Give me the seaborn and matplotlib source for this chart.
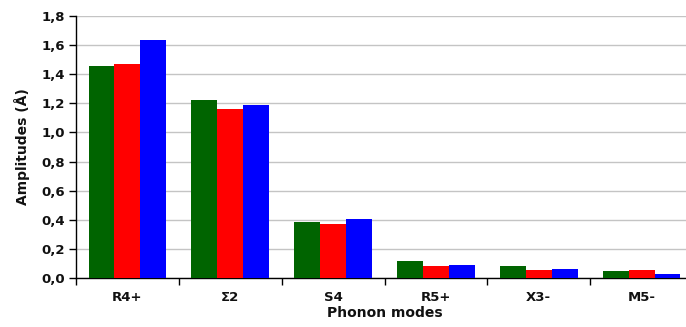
import pandas as pd
import matplotlib
matplotlib.use("Agg")
import matplotlib.pyplot as plt
from matplotlib.ticker import FuncFormatter, FixedLocator
import seaborn as sns

# values
modes = ["R4+", "Σ2", "S4", "R5+", "X3-", "M5-"]
series_names = ["Series 1", "Series 2", "Series 3"]
series_1 = [1.456, 1.222, 0.385, 0.119, 0.082, 0.050]
series_2 = [1.473, 1.160, 0.369, 0.085, 0.055, 0.057]
series_3 = [1.635, 1.188, 0.405, 0.089, 0.062, 0.027]
colors = ["#006400", "#ff0000", "#0000ff"]

data = pd.DataFrame({
    "mode": modes * 3,
    "series": [s for s in series_names for _ in modes],
    "amplitude": series_1 + series_2 + series_3,
})

sns.set_style("white")
plt.rcParams["font.family"] = ["DejaVu Sans"]
plt.rcParams["font.weight"] = "bold"
plt.rcParams["text.color"] = "#111111"
plt.rcParams["xtick.color"] = "black"
plt.rcParams["ytick.color"] = "black"
plt.rcParams["xtick.labelcolor"] = "#111111"
plt.rcParams["ytick.labelcolor"] = "#111111"
plt.rcParams["axes.labelcolor"] = "#111111"

fig = plt.figure(figsize=(6.86, 3.27), dpi=100)
ax = fig.add_axes([0.1108, 0.1498, 0.8994, 0.8012])

sns.barplot(
    data=data, x="mode", y="amplitude", hue="series",
    order=modes, hue_order=series_names, palette=colors,
    width=0.756, gap=0, linewidth=0, saturation=1,
    legend=False, ax=ax, zorder=3,
)

ax.set_xlim(-0.5, 5.5)
ax.set_ylim(0, 1.8)
ax.set_yticks([i * 0.2 for i in range(10)])
ax.yaxis.set_major_formatter(FuncFormatter(lambda v, p: f"{v:.1f}".replace(".", ",")))
ax.grid(axis="y", color="#c4c4c4", linewidth=1, zorder=0)
ax.set_axisbelow(True)

# tick marks at category boundaries, labels at centres
ax.xaxis.set_minor_locator(FixedLocator([i - 0.5 for i in range(7)]))
ax.tick_params(axis="x", which="major", bottom=True, length=0, pad=9, labelsize=9.5)
ax.tick_params(axis="x", which="minor", bottom=True, length=5, width=1, direction="out")
ax.tick_params(axis="y", left=True, length=5, width=1, direction="out", pad=3, labelsize=9.5)
for lab in ax.get_xticklabels() + ax.get_yticklabels():
    lab.set_fontweight("bold")

for side in ["top", "right"]:
    ax.spines[side].set_visible(False)
ax.spines["left"].set_color("black")
ax.spines["bottom"].set_color("black")
ax.spines["left"].set_linewidth(1)
ax.spines["bottom"].set_linewidth(1)

ax.set_xlabel("Phonon modes", fontsize=10, fontweight="bold", labelpad=1.5)
ax.set_ylabel("Amplitudes (Å)", fontsize=10, fontweight="bold")
ax.yaxis.set_label_coords(-0.075, 0.5)

fig.savefig("out.png", dpi=100)
